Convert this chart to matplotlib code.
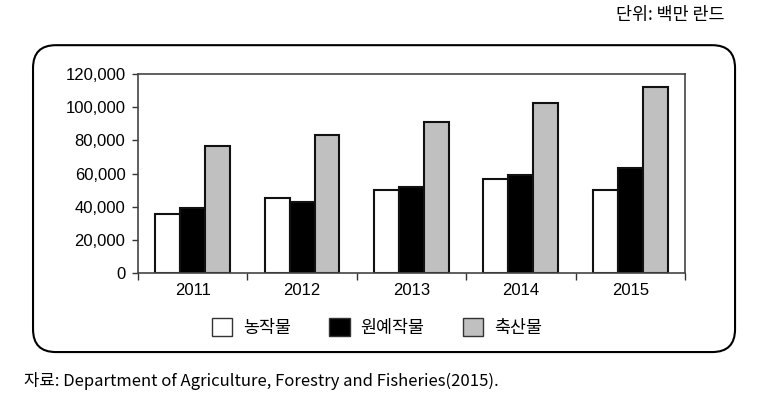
import matplotlib.pyplot as plt
from matplotlib.patches import FancyBboxPatch
from matplotlib.ticker import FuncFormatter
import numpy as np

plt.rcParams['font.family'] = ['Liberation Sans', 'Noto Sans CJK KR', 'DejaVu Sans']

years = ["2011", "2012", "2013", "2014", "2015"]
series_names = ["농작물", "원예작물", "축산물"]
crops = [35500, 45400, 50000, 56700, 50000]
horti = [39200, 42600, 52000, 59100, 63100]
livestock = [76800, 83200, 91200, 102300, 112300]
colors = ["white", "black", "#c0c0c0"]

fig = plt.figure(figsize=(7.61, 4.07), dpi=100)

# rounded frame around the chart
box = FancyBboxPatch((0.0434, 0.135), 0.9225, 0.754,
                     boxstyle="round,pad=0,rounding_size=0.03",
                     mutation_aspect=761 / 407,
                     transform=fig.transFigure, fill=False,
                     edgecolor="black", linewidth=1.5)
fig.patches.append(box)

ax = fig.add_axes([0.1813, 0.3292, 0.7188, 0.4890])

x = np.arange(len(years))
w = 0.228
for i, (vals, c) in enumerate(zip([crops, horti, livestock], colors)):
    ax.bar(x + (i - 1) * w, vals, w, color=c, edgecolor="#111111",
           linewidth=1.5, label=series_names[i])

ax.set_xlim(-0.5, 4.5)
ax.set_ylim(0, 120000)
ax.set_yticks(np.arange(0, 120001, 20000))
ax.yaxis.set_major_formatter(FuncFormatter(lambda v, p: f"{int(v):,}"))
ax.set_xticks(np.arange(-0.5, 4.6, 1))
ax.set_xticklabels([])
ax.set_xticks(x, minor=True)
ax.set_xticklabels(years, minor=True)
ax.tick_params(axis="x", which="minor", length=0, pad=7, labelsize=12)
ax.tick_params(axis="x", which="major", length=5, width=1, color="#333333")
ax.tick_params(axis="y", length=4, width=1, color="#333333", labelsize=12, pad=5)
for s in ax.spines.values():
    s.set_color("#444444")
    s.set_linewidth(1.2)

leg = fig.legend(loc="center", bbox_to_anchor=(0.495, 0.196), ncol=3, frameon=False,
                 prop={"family": ["Noto Sans CJK KR"], "size": 12.5},
                 handlelength=1.2, handleheight=1.2, columnspacing=2.2, handletextpad=0.6)
for h in leg.legend_handles:
    h.set_edgecolor("#333333")
    h.set_linewidth(1.0)

fig.text(0.952, 0.963, "단위: 백만 란드", ha="right", va="center",
         family=["Noto Sans CJK KR"], fontsize=12.5)
fig.text(0.032, 0.064, "자료: Department of Agriculture, Forestry and Fisheries(2015).",
         ha="left", va="center", family=["Noto Sans CJK KR"], fontsize=12)

fig.savefig("out.png", dpi=100)
